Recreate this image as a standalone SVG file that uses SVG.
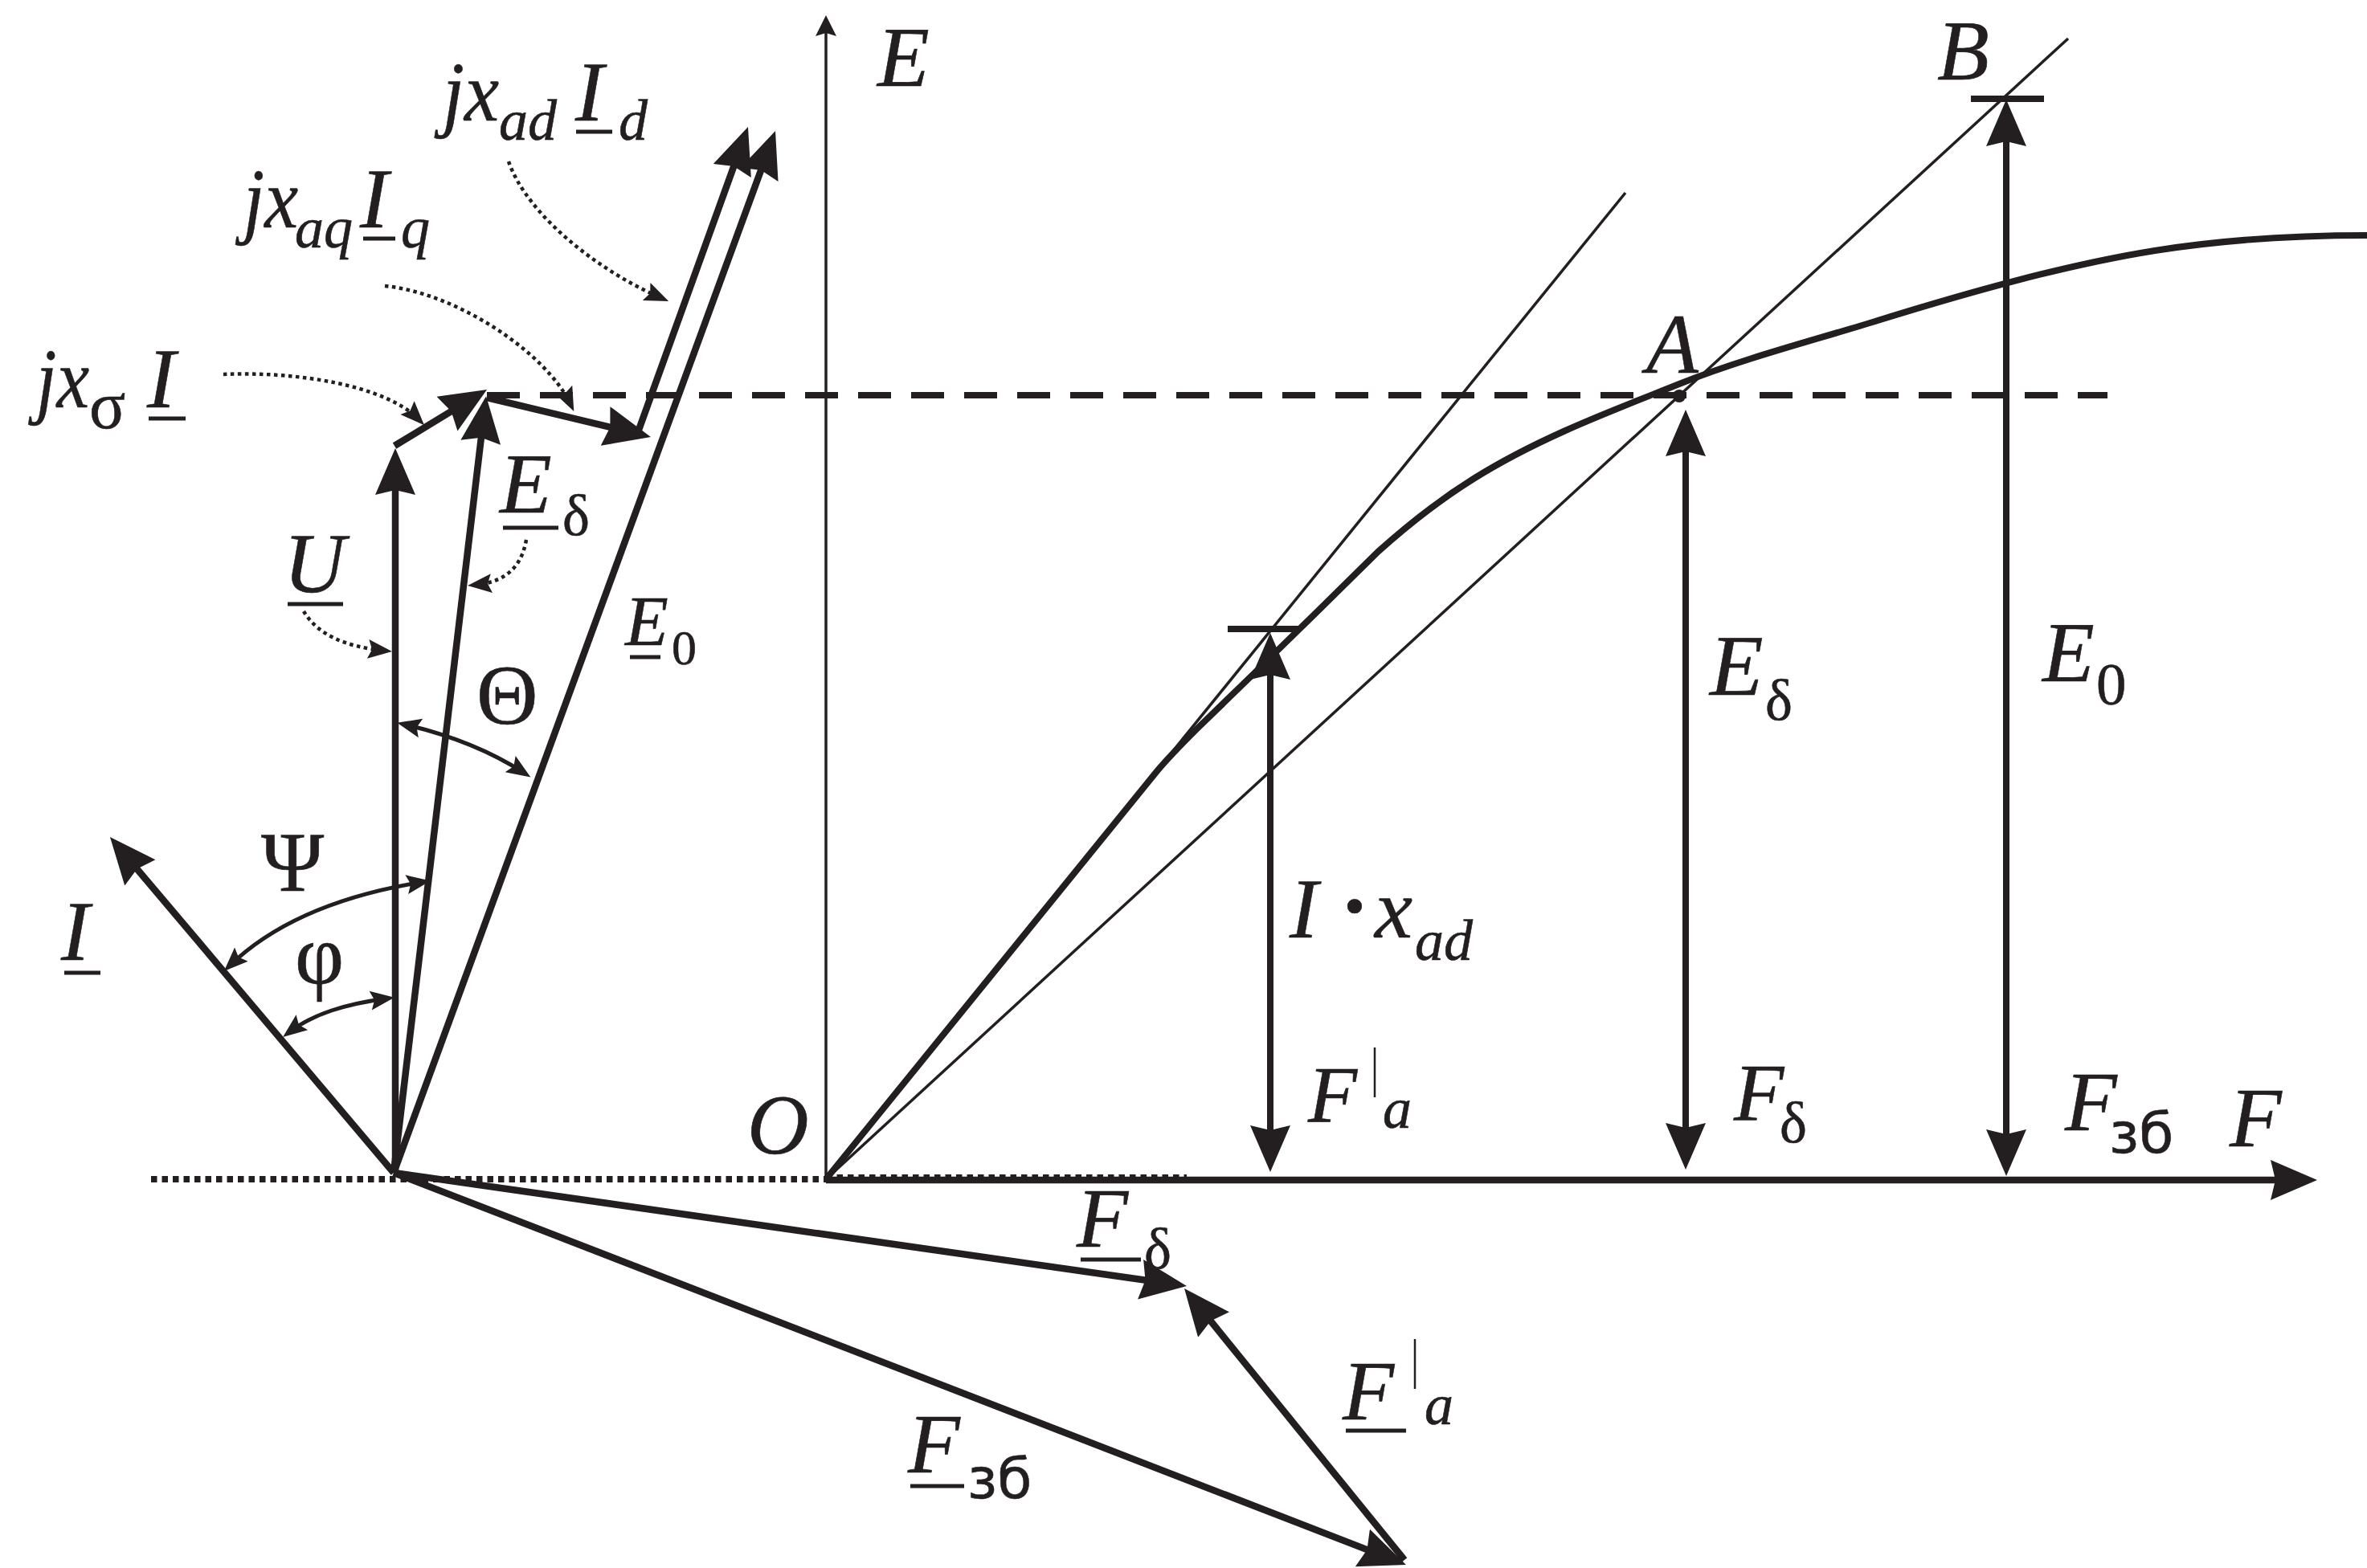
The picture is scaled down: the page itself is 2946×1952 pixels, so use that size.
<svg xmlns="http://www.w3.org/2000/svg" width="2946" height="1952" viewBox="0 0 2946 1952">
<style>
.l{fill:none;stroke:#231f20;stroke-linecap:butt}
.big{stroke-width:8.5;marker-end:url(#h)}
.mid{stroke-width:8;marker-end:url(#h);marker-start:url(#h)}
.thin{stroke-width:3.5}
.arc{stroke-width:5;marker-start:url(#s);marker-end:url(#s)}
.dot{stroke-width:4.5;stroke-dasharray:4.5 4.5;marker-end:url(#s)}
.u{stroke:#231f20;stroke-width:5}
text{font-family:"Liberation Serif","Times New Roman",serif;fill:#231f20;stroke:#231f20;stroke-width:.6;font-style:italic;font-size:106px}
.sub{font-size:72px}
.gr{font-style:normal}
.cy{font-family:"DejaVu Sans","Liberation Sans",sans-serif;font-style:normal;font-size:70px}
</style>
<defs>
<marker id="h" markerUnits="userSpaceOnUse" markerWidth="60" markerHeight="54" viewBox="0 -27 60 54" refX="28" refY="0" orient="auto-start-reverse"><path d="M0,-25 L58,0 L0,25 L6,0 Z" fill="#231f20"/></marker>
<marker id="s" markerUnits="userSpaceOnUse" markerWidth="32" markerHeight="28" viewBox="0 -14 32 28" refX="20" refY="0" orient="auto-start-reverse"><path d="M0,-12 L30,0 L0,12 L5,0 Z" fill="#231f20"/></marker>
<marker id="a" markerUnits="userSpaceOnUse" markerWidth="28" markerHeight="28" viewBox="0 -14 28 28" refX="15" refY="0" orient="auto"><path d="M0,-13 L26,0 L0,13 L4,0 Z" fill="#231f20"/></marker>
</defs>
<rect width="2946" height="1952" fill="#fff"/>
<g id="connectors">
<!-- axes and guides -->
<path class="l thin" d="M1028,1468 V30" marker-end="url(#a)"/>
<path class="l" stroke-width="8" stroke-dasharray="41 25" d="M606,492 H2623"/>
<path class="l" stroke-width="8" stroke-dasharray="7.5 6" d="M188,1468 H1028"/>
<path class="l" stroke-width="6" stroke-dasharray="7.5 6" d="M1028,1465 H1477"/>
<path class="l big" d="M1028,1469 H2854"/>
<path class="l thin" d="M1028,1468 L2023,240"/>
<path class="l thin" d="M1028,1468 L2574,48"/>
<path class="l" stroke-width="8" d="M1028,1468 L1440,960 C1455,942 1475,922 1490,907 L1557,842 C1600,800 1680,722 1716,686 C1756,650 1794,621 1834,596 C1917,544 2010,510 2090,478 C2170,446 2260,423 2337,399 C2450,364 2570,330 2682,312 C2770,298 2860,293 2946,293"/>
<path class="l" stroke-width="8" d="M1528,783 H1619 M2453,123 H2544"/>
<circle cx="2090" cy="493" r="8" fill="#231f20"/>
<!-- characteristic arrows -->
<path class="l mid" d="M1581,818 V1429"/>
<path class="l mid" d="M2098,540 V1426"/>
<path class="l mid" d="M2497,154 V1434"/>
<!-- phasors -->
<path class="l big" d="M492,1460 V588"/>
<path class="l big" d="M490,1460 L601.5,523"/>
<path class="l big" d="M490,1460 L954.7,191.2"/>
<path class="l big" d="M490,1460 L156.3,1064.9"/>
<path class="l big" d="M794,538 L920.8,186.2"/>
<path class="l big" d="M491,555 L580.4,500.6"/>
<path class="l big" d="M606,495 L780.8,537"/>
<path class="l big" d="M490,1460 L1447.3,1596.8"/>
<path class="l big" d="M1748,1942 L1492.9,1627.3"/>
<path class="l big" d="M490,1460 L1722,1937.1"/>
<!-- angle arcs -->
<path class="l arc" d="M504,902 C560,915 610,935 652,962"/>
<path class="l arc" d="M286,1202 C340,1150 420,1115 526,1098"/>
<path class="l arc" d="M360,1285 C390,1262 430,1250 481,1243"/>
<!-- dotted leaders -->
<path class="l dot" d="M633,201 C655,265 740,335 823,371"/>
<path class="l dot" d="M479,356 C570,365 680,440 710,503"/>
<path class="l dot" d="M278,466 C370,462 480,480 521,522"/>
<path class="l dot" d="M655,672 C650,700 635,724 592,728"/>
<path class="l dot" d="M378,761 C395,790 430,805 478,810"/>
</g>
<g id="labels">
<g id="label-jxadId"><text x="551" y="150" textLength="70" lengthAdjust="spacingAndGlyphs">jx</text><text><tspan class="sub" x="621" y="174">ad</tspan><tspan x="716" y="150">I</tspan><tspan class="sub" x="770" y="174">d</tspan></text><line class="u" x1="717" y1="164" x2="762" y2="164"/></g>
<g id="label-jxaqIq"><text x="303" y="283" textLength="68" lengthAdjust="spacingAndGlyphs">jx</text><text><tspan class="sub" x="367" y="308">aq</tspan><tspan x="448" y="283">I</tspan><tspan class="sub" x="499" y="308">q</tspan></text><line class="u" x1="452" y1="297" x2="492" y2="297"/></g>
<g id="label-jxsI"><text x="45" y="507" textLength="66" lengthAdjust="spacingAndGlyphs">jx</text><text><tspan class="gr" font-size="84" x="111" y="533">σ</tspan><tspan x="183" y="507">I</tspan></text><line class="u" x1="185" y1="521" x2="231" y2="521"/></g>
<g id="label-E"><text x="1092" y="107">E</text></g>
<g id="label-Ed-vec"><text><tspan x="622" y="638" font-size="106">E</tspan><tspan class="sub gr" x="700" y="666">δ</tspan></text><line class="u" x1="626" y1="657" x2="695" y2="657"/></g>
<g id="label-U"><text x="353" y="737" font-size="97">U</text><line class="u" x1="358" y1="752" x2="427" y2="752"/></g>
<g id="label-E0-vec"><text><tspan x="778" y="803" font-size="88">E</tspan><tspan class="gr" x="836" y="827" font-size="62">0</tspan></text><line class="u" x1="784" y1="818" x2="822" y2="818"/></g>
<g id="label-theta"><text class="gr" x="593" y="901" font-size="96">Θ</text></g>
<g id="label-psi"><text class="gr" x="325" y="1109" font-size="93">Ψ</text></g>
<g id="label-phi"><text class="gr" x="367" y="1224" font-size="92">φ</text></g>
<g id="label-I"><text x="76" y="1195" font-size="100">I</text><line class="u" x1="80" y1="1211" x2="125" y2="1211"/></g>
<g id="label-O"><text x="930" y="1436" font-size="92">O</text></g>
<g id="label-Ixad"><text><tspan x="1605" y="1167">I</tspan><tspan class="gr" font-size="150" x="1661" y="1178">·</tspan><tspan x="1711" y="1167">x</tspan><tspan class="sub" x="1761" y="1195">ad</tspan></text></g>
<g id="label-Fa"><text><tspan x="1628" y="1396" font-size="100">F</tspan><tspan class="sub" x="1721" y="1404">a</tspan></text><line x1="1711" y1="1304" x2="1711" y2="1366" stroke="#231f20" stroke-width="2.5"/></g>
<g id="label-Fd"><text><tspan x="2158" y="1395" font-size="102">F</tspan><tspan class="sub gr" x="2215" y="1422">δ</tspan></text></g>
<g id="label-Fzb"><text x="2570" y="1407" font-size="102">F</text><text class="cy" x="2625" y="1435">зб</text></g>
<g id="label-F"><text x="2775" y="1427" font-size="120">F</text></g>
<g id="label-B"><text x="2411" y="99" font-size="112">B</text></g>
<g id="label-A"><text x="2049" y="464" font-size="112">A</text></g>
<g id="label-Ed"><text><tspan x="2128" y="865" font-size="109">E</tspan><tspan class="sub gr" x="2197" y="896">δ</tspan></text></g>
<g id="label-E0"><text><tspan x="2542" y="848">E</tspan><tspan class="gr" x="2609" y="877" font-size="75">0</tspan></text></g>
<g id="label-Fd-vec"><text><tspan x="1340" y="1552" font-size="105">F</tspan><tspan class="sub gr" x="1424" y="1579">δ</tspan></text><line class="u" x1="1345" y1="1568" x2="1420" y2="1568"/></g>
<g id="label-Fa-vec"><text><tspan x="1671" y="1767" font-size="105">F</tspan><tspan class="sub" x="1773" y="1773">a</tspan></text><line class="u" x1="1675" y1="1781" x2="1750" y2="1781"/><line x1="1761" y1="1667" x2="1761" y2="1729" stroke="#231f20" stroke-width="2.5"/></g>
<g id="label-Fzb-vec"><text x="1130" y="1833" font-size="100">F</text><text class="cy" x="1204" y="1865">зб</text><line class="u" x1="1133" y1="1850" x2="1200" y2="1850"/></g>
</g>
</svg>
